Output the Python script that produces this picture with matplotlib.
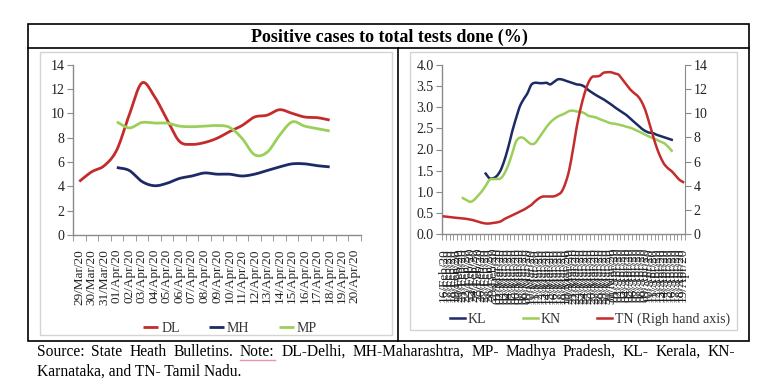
import matplotlib
matplotlib.use("Agg")
import matplotlib.pyplot as plt
from matplotlib.patches import Rectangle
from matplotlib.lines import Line2D
import numpy as np
import pandas as pd

plt.rcParams['font.family'] = ['Liberation Serif', 'DejaVu Serif']

# ---- data: left panel (29 Mar - 20 Apr) ----
left_dates = ['29/Mar/20', '30/Mar/20', '31/Mar/20', '01/Apr/20', '02/Apr/20', '03/Apr/20',
              '04/Apr/20', '05/Apr/20', '06/Apr/20', '07/Apr/20', '08/Apr/20', '09/Apr/20',
              '10/Apr/20', '11/Apr/20', '12/Apr/20', '13/Apr/20', '14/Apr/20', '15/Apr/20',
              '16/Apr/20', '17/Apr/20', '18/Apr/20', '19/Apr/20', '20/Apr/20']
dl = [4.4, 5.2, 5.7, 7.0, 9.9, 12.5, 11.4, 9.5, 7.7, 7.45, 7.6, 7.95, 8.5, 9.0, 9.7,
      9.85, 10.3, 10.0, 9.7, 9.65, 9.45, None, None]
mh = [None, None, None, 5.55, 5.3, 4.4, 4.05, 4.25, 4.65, 4.85, 5.1, 5.0, 5.0, 4.85, 5.0,
      5.3, 5.6, 5.85, 5.85, 5.7, 5.6, None, None]
mp = [None, None, None, 9.3, 8.8, 9.25, 9.2, 9.2, 8.95, 8.9, 8.95, 9.0, 8.85, 7.95, 6.6,
      6.8, 8.2, 9.3, 8.95, 8.75, 8.55, None, None]

# ---- data: right panel (daily categories) ----
right_dates = list(pd.date_range('2020-02-16', '2020-04-19').strftime('%d/%b/%y'))
kl = [None] * 11 + [1.43, 1.32, 1.32, 1.38, 1.52, 1.76, 2.07, 2.43, 2.74, 3.02, 3.19, 3.33,
      3.53, 3.58, 3.57, 3.57, 3.58, 3.54, 3.6, 3.66, 3.66, 3.63, 3.6, 3.57, 3.54, 3.53,
      3.49, 3.41, 3.35, 3.29, 3.24, 3.19, 3.13, 3.07, 3.0, 2.94, 2.88, 2.82, 2.74, 2.66,
      2.58, 2.5, 2.44, 2.4, 2.39, 2.35, 2.32, 2.29, 2.26, 2.23] + [None] * 3
kn = [None] * 5 + [0.85, 0.8, 0.76, 0.81, 0.91, 1.01, 1.14, 1.28, 1.3, 1.3, 1.32, 1.44, 1.64,
      1.91, 2.19, 2.28, 2.27, 2.19, 2.13, 2.15, 2.27, 2.4, 2.53, 2.64, 2.72, 2.78, 2.82,
      2.86, 2.91, 2.92, 2.9, 2.89, 2.86, 2.8, 2.78, 2.76, 2.72, 2.69, 2.65, 2.62, 2.61,
      2.59, 2.57, 2.54, 2.52, 2.48, 2.44, 2.4, 2.35, 2.31, 2.27, 2.23, 2.19, 2.15, 2.07,
      1.97] + [None] * 3
tn = [1.46, 1.42, 1.38, 1.35, 1.32, 1.3, 1.25, 1.2, 1.12, 1.02, 0.93, 0.87, 0.87, 0.92, 0.96,
      1.05, 1.25, 1.4, 1.55, 1.7, 1.85, 2.0, 2.2, 2.4, 2.7, 2.95, 3.1, 3.1, 3.1, 3.12, 3.25,
      3.5, 4.2, 5.3, 7.0, 8.9, 10.4, 11.6, 12.5, 13.0, 13.05, 13.1, 13.35, 13.4, 13.4, 13.3,
      13.2, 12.8, 12.4, 12.0, 11.7, 11.45, 11.0, 10.3, 9.3, 8.2, 7.2, 6.4, 5.8, 5.45, 5.2,
      4.85, 4.5, 4.3]

source_line1 = ('Source: State Heath Bulletins. Note: DL-Delhi, MH-Maharashtra, '
                'MP- Madhya Pradesh, KL- Kerala, KN-')
source_line2 = 'Karnataka, and TN- Tamil Nadu.'

RED = '#c42b2b'
NAVY = '#1c2a66'
GREEN = '#9bcf5a'
SPINE = '#8a8a8a'
TXT = '#222222'

W, H = 759, 390


def fx(x):
    return x / W


def fy(y):
    return 1 - y / H


def smooth(vals, n=10):
    # Catmull-Rom curve through the valid points, like Excel's smoothed line
    idx = np.array([i for i, v in enumerate(vals) if v is not None], float)
    y = np.array([v for v in vals if v is not None], float)
    px = np.concatenate([[2 * idx[0] - idx[1]], idx, [2 * idx[-1] - idx[-2]]])
    py = np.concatenate([[2 * y[0] - y[1]], y, [2 * y[-1] - y[-2]]])
    t = np.linspace(0, 1, n, endpoint=False)
    xs, ys = [], []
    for i in range(1, len(px) - 2):
        for p, out in ((px, xs), (py, ys)):
            p0, p1, p2, p3 = p[i - 1], p[i], p[i + 1], p[i + 2]
            out.append(0.5 * (2 * p1 + (-p0 + p2) * t + (2 * p0 - 5 * p1 + 4 * p2 - p3) * t ** 2
                              + (-p0 + 3 * p1 - 3 * p2 + p3) * t ** 3))
    return np.concatenate(xs + [[idx[-1]]]), np.concatenate(ys + [[y[-1]]])


def style_cat_axis(ax, labels):
    n = len(labels)
    ax.set_xlim(-0.5, n - 0.5)
    ax.set_xticks(np.arange(n))
    ax.set_xticklabels(labels, rotation=90, fontsize=9.5, color=TXT)
    ax.set_xticks(np.arange(n + 1) - 0.5, minor=True)
    ax.tick_params(axis='x', which='major', length=0, pad=10)
    ax.tick_params(axis='x', which='minor', length=4, color=SPINE, direction='out')
    ax.tick_params(axis='y', length=4, color=SPINE, labelsize=10, labelcolor=TXT, pad=2)
    for s in ('top', 'right'):
        ax.spines[s].set_visible(False)
    for s in ('left', 'bottom'):
        ax.spines[s].set_color(SPINE)
        ax.spines[s].set_linewidth(1.0)


fig = plt.figure(figsize=(7.59, 3.90), dpi=100)

# frames
fig.patches.append(Rectangle((fx(28), fy(341)), fx(749) - fx(28), fy(24) - fy(341),
                             transform=fig.transFigure, fill=False, ec='black', lw=1.2))
fig.lines.append(Line2D([fx(28), fx(749)], [fy(48), fy(48)], transform=fig.transFigure, color='black', lw=1.2))
fig.lines.append(Line2D([fx(398), fx(398)], [fy(48), fy(341)], transform=fig.transFigure, color='black', lw=1.2))
fig.patches.append(Rectangle((fx(40), fy(335)), fx(392) - fx(40), fy(52) - fy(335),
                             transform=fig.transFigure, fill=False, ec='#d4d4d4', lw=1.0))
fig.patches.append(Rectangle((fx(410), fy(330)), fx(737) - fx(410), fy(52) - fy(330),
                             transform=fig.transFigure, fill=False, ec='#d4d4d4', lw=1.0))

fig.text(fx(389), fy(37), 'Positive cases to total tests done (%)', ha='center', va='center',
         fontsize=13, fontweight='bold', color='black')

# ---- left panel ----
ax1 = fig.add_axes([fx(73), fy(235), fx(361) - fx(73), fy(64.7) - fy(235)])
for vals, c, name in ((dl, RED, 'DL'), (mh, NAVY, 'MH'), (mp, GREEN, 'MP')):
    xs, ys = smooth(vals)
    ax1.plot(xs, ys, color=c, lw=2.0, label=name, solid_capstyle='butt')
ax1.set_ylim(0, 14)
ax1.set_yticks(np.arange(0, 15, 2))
style_cat_axis(ax1, left_dates)
ax1.legend(loc='center', bbox_to_anchor=(fx(230), fy(328)), bbox_transform=fig.transFigure,
           ncol=3, frameon=False, fontsize=10, handlelength=1.1, handletextpad=0.2,
           columnspacing=2.1, labelcolor='#333333')

# ---- right panel ----
ax2 = fig.add_axes([fx(442), fy(234), fx(685) - fx(442), fy(65) - fy(234)])
ax3 = ax2.twinx()
for vals, c, name in ((kl, NAVY, 'KL'), (kn, GREEN, 'KN')):
    xs, ys = smooth(vals, n=4)
    ax2.plot(xs, ys, color=c, lw=1.8, label=name)
xs, ys = smooth(tn, n=4)
ax3.plot(xs, ys, color=RED, lw=1.8, label='TN (Righ hand axis)')
ax2.set_ylim(0, 4.0)
ax2.set_yticks(np.arange(0, 4.01, 0.5))
ax2.yaxis.set_major_formatter(matplotlib.ticker.FormatStrFormatter('%.1f'))
style_cat_axis(ax2, right_dates)
ax3.set_ylim(0, 14)
ax3.set_yticks(np.arange(0, 15, 2))
ax3.tick_params(axis='y', length=4, color=SPINE, labelsize=10, labelcolor=TXT, pad=2)
for s in ('top', 'left', 'bottom'):
    ax3.spines[s].set_visible(False)
ax3.spines['right'].set_color(SPINE)
h2, l2 = ax2.get_legend_handles_labels()
h3, l3 = ax3.get_legend_handles_labels()
ax3.legend(h2 + h3, l2 + l3, loc='center', bbox_to_anchor=(fx(590), fy(319)),
           bbox_transform=fig.transFigure, ncol=3, frameon=False, fontsize=10,
           handlelength=1.1, handletextpad=0.2, columnspacing=2.6, labelcolor='#333333')

# ---- source note (first line justified between x=37 and x=735) ----
renderer = fig.canvas.get_renderer()
words = source_line1.split(' ')
word_texts = [fig.text(0, fy(352), w, ha='left', va='center', fontsize=11.2, color='black')
              for w in words]
widths = [t.get_window_extent(renderer).width for t in word_texts]
gap = (735 - 37 - sum(widths)) / (len(words) - 1)
xpos = 37.0
for t, w, wd in zip(word_texts, words, widths):
    t.set_x(fx(xpos))
    if w == 'Note:':
        fig.lines.append(Line2D([fx(xpos), fx(xpos + wd)], [fy(360), fy(360)],
                                transform=fig.transFigure, color='#e39aa8', lw=1.0))
    xpos += wd + gap
fig.text(fx(37), fy(372), source_line2, ha='left', va='center', fontsize=11.2, color='black')

fig.savefig('out.png', dpi=100)
